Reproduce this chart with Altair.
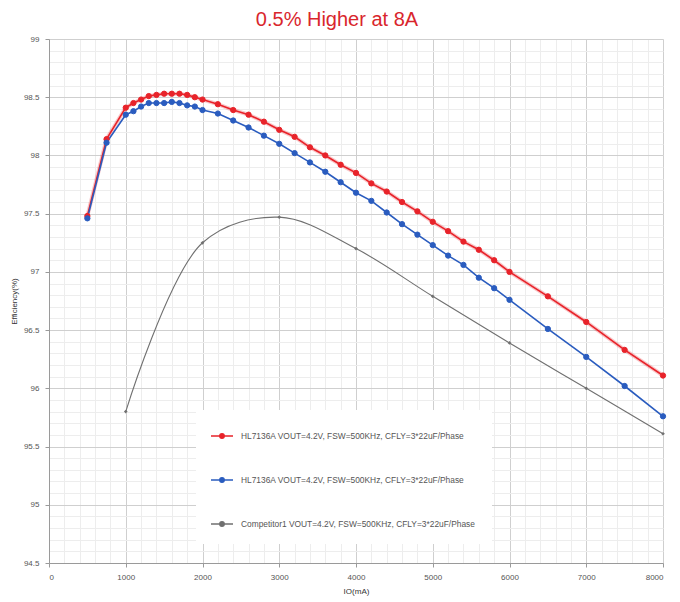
import altair as alt
import pandas as pd

# ---- data ----
x_main = [500, 750, 1000, 1100, 1200, 1300, 1400, 1500, 1600, 1700, 1800, 1900, 2000,
          2200, 2400, 2600, 2800, 3000, 3200, 3400, 3600, 3800, 4000, 4200, 4400, 4600,
          4800, 5000, 5200, 5400, 5600, 5800, 6000, 6500, 7000, 7500, 8000]
eff_red = [97.48, 98.14, 98.41, 98.45, 98.48, 98.51, 98.52, 98.53, 98.53, 98.53, 98.52, 98.50, 98.48,
           98.44, 98.39, 98.35, 98.29, 98.22, 98.16, 98.07, 98.00, 97.92, 97.85, 97.76, 97.69, 97.60,
           97.52, 97.43, 97.35, 97.26, 97.19, 97.10, 97.00, 96.79, 96.57, 96.33, 96.11]
eff_blue = [97.46, 98.11, 98.35, 98.38, 98.42, 98.45, 98.45, 98.45, 98.46, 98.45, 98.43, 98.42, 98.39,
            98.36, 98.30, 98.24, 98.17, 98.10, 98.02, 97.94, 97.86, 97.77, 97.68, 97.61, 97.51, 97.41,
            97.32, 97.23, 97.14, 97.06, 96.95, 96.86, 96.76, 96.51, 96.27, 96.02, 95.76]
x_comp = [1000, 2000, 3000, 4000, 5000, 6000, 7000, 8000]
eff_comp = [95.80, 97.25, 97.47, 97.20, 96.79, 96.39, 96.00, 95.61]

series_keys = ["s1", "s2", "s3"]
series_labels = [
    "HL7136A  VOUT=4.2V, FSW=500KHz, CFLY=3*22uF/Phase",
    "HL7136A  VOUT=4.2V, FSW=500KHz, CFLY=3*22uF/Phase",
    "Competitor1  VOUT=4.2V, FSW=500KHz, CFLY=3*22uF/Phase",
]
series_colors = ["#e8232a", "#2a5cbf", "#707070"]

x_major = [0, 1000, 2000, 3000, 4000, 5000, 6000, 7000, 8000]
y_major = [94.5, 95, 95.5, 96, 96.5, 97, 97.5, 98, 98.5, 99]
x_minor = list(range(0, 8001, 200))
y_minor = [round(94.5 + 0.1 * i, 1) for i in range(46)]

# ---- tables ----
df_hl = pd.concat([
    pd.DataFrame({"IO": x_main, "Eff": eff_red, "series": "s1"}),
    pd.DataFrame({"IO": x_main, "Eff": eff_blue, "series": "s2"}),
])
df_comp = pd.DataFrame({"IO": x_comp, "Eff": eff_comp, "series": "s3"})

label_expr = ("datum.value == 's1' ? '%s' : datum.value == 's2' ? '%s' : '%s'"
              % tuple(series_labels))

xscale = alt.Scale(domain=[0, 8000], nice=False, zero=False)
yscale = alt.Scale(domain=[94.5, 99], nice=False, zero=False)
cscale = alt.Scale(domain=series_keys, range=series_colors)

axis_font = dict(labelFont="Liberation Sans", titleFont="Liberation Sans",
                 labelColor="#555555", titleColor="#333333",
                 labelFontSize=8, titleFontSize=8, titleFontWeight="normal",
                 domainColor="#9a9a9a", tickColor="#9a9a9a")

x_major_axis = alt.Axis(values=x_major, format="d", title="IO(mA)", grid=True,
                        gridColor="#cfcfcf", tickSize=4, labelPadding=6, titlePadding=6,
                        orient="bottom", **axis_font)
y_major_axis = alt.Axis(values=y_major, format="~g", title="Efficiency(%)", grid=True,
                        gridColor="#cfcfcf", tickSize=4, labelPadding=6, titlePadding=5,
                        orient="left", **axis_font)
x_minor_axis = alt.Axis(values=x_minor, grid=True, gridColor="#ededed", labels=False,
                        ticks=False, domain=False, title=None, orient="bottom")
y_minor_axis = alt.Axis(values=y_minor, grid=True, gridColor="#ededed", labels=False,
                        ticks=False, domain=False, title=None, orient="left")

legend_symbol = "M-1,0L1,0M-0.2,0A0.2,0.2,0,1,1,0.2,0A0.2,0.2,0,1,1,-0.2,0Z"
legend = alt.Legend(title=None, orient="none", legendX=147, legendY=371,
                    fillColor="white", padding=14, rowPadding=26,
                    symbolType=legend_symbol, symbolSize=484, symbolStrokeWidth=1.5,
                    symbolOpacity=1,
                    labelExpr=label_expr, labelFont="Liberation Sans", labelFontSize=8.4,
                    labelColor="#555555", labelLimit=500, labelOffset=7)

# minor grid layer (gray curve)
comp_line = alt.Chart(df_comp).mark_line(interpolate="catmull-rom", strokeWidth=1.1).encode(
    x=alt.X("IO:Q", scale=xscale, axis=x_minor_axis),
    y=alt.Y("Eff:Q", scale=yscale, axis=y_minor_axis),
    stroke=alt.Stroke("series:N", scale=cscale, legend=legend),
)

red_glow = alt.Chart(df_hl).transform_filter("datum.series == 's1'").mark_line(
    strokeWidth=4, strokeOpacity=0.25).encode(
    x=alt.X("IO:Q", scale=xscale, axis=None),
    y=alt.Y("Eff:Q", scale=yscale, axis=None),
    stroke=alt.Stroke("series:N", scale=cscale, legend=legend),
)

hl_lines = alt.Chart(df_hl).mark_line(strokeWidth=1.6).encode(
    x=alt.X("IO:Q", scale=xscale, axis=x_major_axis),
    y=alt.Y("Eff:Q", scale=yscale, axis=y_major_axis),
    stroke=alt.Stroke("series:N", scale=cscale, legend=legend),
)

hl_points = alt.Chart(df_hl).mark_point(shape="circle", size=28, filled=False,
                                        fillOpacity=1, strokeOpacity=1, strokeWidth=1).encode(
    x=alt.X("IO:Q", scale=xscale, axis=None),
    y=alt.Y("Eff:Q", scale=yscale, axis=None),
    stroke=alt.Stroke("series:N", scale=cscale, legend=legend),
    fill=alt.Fill("series:N", scale=cscale, legend=legend),
)

comp_points = alt.Chart(df_comp).mark_point(shape="diamond", size=14, filled=True,
                                            fillOpacity=1).encode(
    x=alt.X("IO:Q", scale=xscale, axis=None),
    y=alt.Y("Eff:Q", scale=yscale, axis=None),
    fill=alt.Fill("series:N", scale=cscale, legend=legend),
)

chart = alt.layer(comp_line, red_glow, hl_lines, hl_points, comp_points).resolve_axis(
    x="independent", y="independent"
).properties(
    width=614, height=524,
    title=alt.TitleParams("0.5% Higher at 8A", color="#d9262c", fontSize=20,
                          font="Liberation Sans", fontWeight="normal", offset=5,
                          anchor="middle", dx=-19),
    autosize=alt.AutoSizeParams(type="none"),
    padding={"left": 41, "top": 31, "right": 9, "bottom": 37},
).configure_view(stroke="#cfcfcf").configure(background="white")

chart.save("out.html", embed_options={"renderer": "svg", "actions": False})
